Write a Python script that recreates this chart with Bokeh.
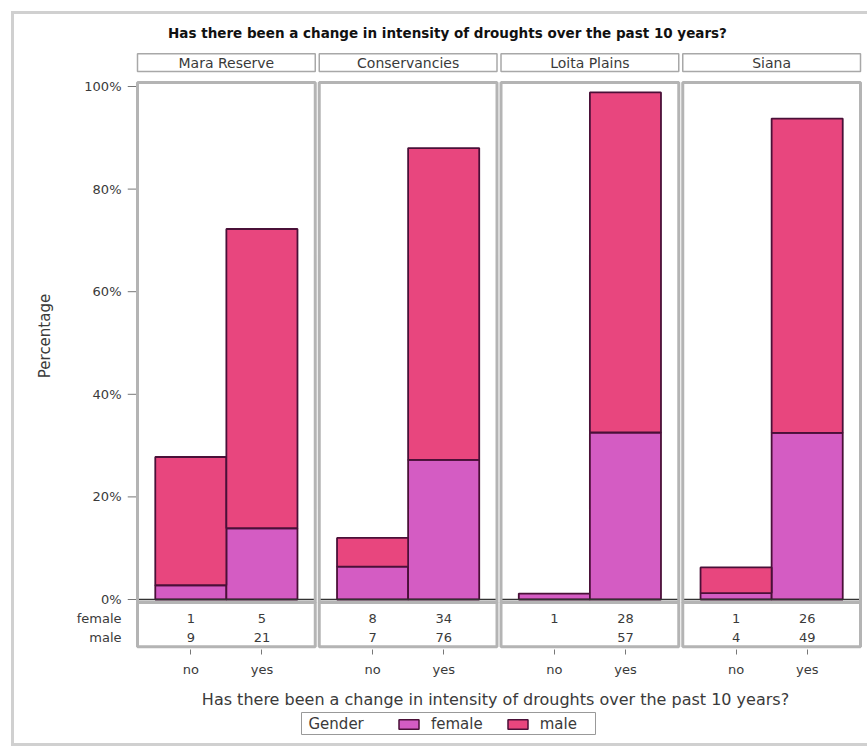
from bokeh.plotting import figure
from bokeh.layouts import column
from bokeh.models import (ColumnDataSource, Range1d, FixedTicker,
                          CustomJSTickFormatter, Legend, LegendItem)
from bokeh.embed import file_html
from bokeh.resources import INLINE
from bokeh.core.properties import value

# ---------------- data ----------------
title_text = "Has there been a change in intensity of droughts over the past 10 years?"
x_title = "Has there been a change in intensity of droughts over the past 10 years?"
y_title = "Percentage"
sites = ["Mara Reserve", "Conservancies", "Loita Plains", "Siana"]
answers = ["no", "yes"]
female_no = [1, 8, 1, 1]
female_yes = [5, 34, 28, 26]
male_no = [9, 7, 0, 4]
male_yes = [21, 76, 57, 49]
y_ticks = [0, 20, 40, 60, 80, 100]
gender_labels = ["female", "male"]
legend_title = "Gender"

# ---------------- style / layout ----------------
FEMALE = "#d45cc3"
MALE = "#e8467e"
EDGE = "#4a1038"
BOX = "#b4b4b4"
TXT = "#3a3a3a"
FONT = "DejaVu Sans"

PANEL_W = 2.5
GAP = 0.0563
PITCH = PANEL_W + GAP
PX_X = 71.1      # px per x unit
PX_Y = 5.13      # px per percent
ORIGIN_X, ORIGIN_Y = 137, 599   # page px of x=0 and 0%
STRIP_TOP, STRIP_BOT = 106.4, 102.9
PANEL_TOP, PANEL_BOT = 100.8, -0.6
TABLE_BOT = -9.2
ROW_Y = [-3.7, -7.4]
TITLE_Y = (ORIGIN_Y - 32) / PX_Y

W = 867
FRAME_L, FRAME_R, FRAME_T, FRAME_B = 127, 863, 22, 649
MAIN_H = 707
LEG_H = 41
LEG_BOX = (301, 595, 708, 730)   # left, right, top, bottom (page px)
LEG_ITEMS_X = 396

# ---------------- derived values ----------------
bar_x, f_top, m_bot, m_top = [], [], [], []
f_lab, m_lab = [], []
for i in range(len(sites)):
    tot = female_no[i] + female_yes[i] + male_no[i] + male_yes[i]
    pairs = [(female_no[i], male_no[i]), (female_yes[i], male_yes[i])]
    for j, (f, m) in enumerate(pairs):
        x = i * PITCH + 0.75 + j
        fp = f / tot * 100
        mp = m / tot * 100
        bar_x.append(x)
        f_top.append(fp)
        m_bot.append(fp)
        m_top.append(fp + mp)
        f_lab.append(str(f) if f > 0 else "")
        m_lab.append(str(m) if m > 0 else "")

female_src = ColumnDataSource(dict(x=bar_x, top=f_top, bottom=[0] * len(bar_x)))
mk = [k for k in range(len(bar_x)) if m_top[k] > m_bot[k]]
male_src = ColumnDataSource(dict(x=[bar_x[k] for k in mk], top=[m_top[k] for k in mk],
                                 bottom=[m_bot[k] for k in mk]))

panel_left = [i * PITCH for i in range(len(sites))]
panel_right = [l + PANEL_W for l in panel_left]
panel_mid = [l + PANEL_W / 2 for l in panel_left]

x_min = (FRAME_L - ORIGIN_X) / PX_X
x_max = (FRAME_R - ORIGIN_X) / PX_X
y_max = (ORIGIN_Y - FRAME_T) / PX_Y
y_min = (ORIGIN_Y - FRAME_B) / PX_Y

p = figure(frame_width=FRAME_R - FRAME_L, frame_height=FRAME_B - FRAME_T,
           min_border_left=FRAME_L, min_border_right=W - FRAME_R,
           min_border_top=FRAME_T, min_border_bottom=MAIN_H - FRAME_B,
           x_range=Range1d(x_min, x_max), y_range=Range1d(y_min, y_max),
           output_backend="svg", toolbar_location=None)
p.outline_line_color = None
p.xgrid.visible = False
p.ygrid.visible = False
p.background_fill_color = "white"
p.border_fill_alpha = 0.0

# title (drawn inside the top of the frame)
p.text(x=[(447 - ORIGIN_X) / PX_X], y=[TITLE_Y], text=[title_text], text_align="center",
       text_baseline="middle", text_font=value(FONT), text_font_size="13.5px",
       text_font_style="bold", text_color="#111111")

# strip headers
p.quad(left=panel_left, right=panel_right, top=STRIP_TOP, bottom=STRIP_BOT,
       fill_color="white", line_color="#a8a8a8", line_width=1.5)
p.text(x=panel_mid, y=(STRIP_TOP + STRIP_BOT) / 2, text=sites, text_align="center",
       text_baseline="middle", text_font=value(FONT), text_font_size="14px", text_color=TXT)

# y tick marks
p.segment(x0=x_min, y0=y_ticks, x1=0, y1=y_ticks, line_color="#777777", line_width=1)

# bars
rf = p.vbar(x="x", top="top", bottom="bottom", width=1.0, source=female_src,
            fill_color=FEMALE, line_color=EDGE, line_width=1.8)
rm = p.vbar(x="x", top="top", bottom="bottom", width=1.0, source=male_src,
            fill_color=MALE, line_color=EDGE, line_width=1.8)

# baseline at 0
p.segment(x0=panel_left, y0=0, x1=panel_right, y1=0, line_color="#333333", line_width=1.5)

# panel boxes and table boxes
p.quad(left=panel_left, right=panel_right, top=PANEL_TOP, bottom=PANEL_BOT,
       fill_color=None, line_color=BOX, line_width=3)
p.quad(left=panel_left, right=panel_right, top=PANEL_BOT, bottom=TABLE_BOT,
       fill_color=None, line_color=BOX, line_width=3)

# counts table
p.text(x=bar_x, y=ROW_Y[0], text=f_lab, text_align="center", text_baseline="middle",
       text_font=value(FONT), text_font_size="13px", text_color=TXT)
p.text(x=bar_x, y=ROW_Y[1], text=m_lab, text_align="center", text_baseline="middle",
       text_font=value(FONT), text_font_size="13px", text_color=TXT)

# y axis: percentages plus the table row labels
p.yaxis.ticker = FixedTicker(ticks=sorted(ROW_Y) + y_ticks, minor_ticks=[])
p.yaxis.formatter = CustomJSTickFormatter(args=dict(row_y=ROW_Y, rows=gender_labels), code="""
if (tick < 0) {
  let best = 0;
  for (let k = 1; k < row_y.length; k++) {
    if (Math.abs(tick - row_y[k]) < Math.abs(tick - row_y[best])) best = k;
  }
  return rows[best];
}
return Math.round(tick) + '%';
""")
p.yaxis.axis_line_color = None
p.yaxis.major_tick_in = 0
p.yaxis.major_tick_out = 0
p.yaxis.minor_tick_line_color = None
p.yaxis.major_label_standoff = 6
p.yaxis.major_label_text_font = FONT
p.yaxis.major_label_text_font_size = "13px"
p.yaxis.major_label_text_color = TXT
p.yaxis.axis_label = y_title
p.yaxis.axis_label_text_font = FONT
p.yaxis.axis_label_text_font_size = "15px"
p.yaxis.axis_label_text_font_style = "normal"
p.yaxis.axis_label_text_color = TXT
p.yaxis.axis_label_standoff = 20

p.xaxis.ticker = FixedTicker(ticks=bar_x, minor_ticks=[])
p.xaxis.formatter = CustomJSTickFormatter(args=dict(labels=answers),
                                          code="return labels[index % labels.length];")
p.xaxis.axis_line_color = None
p.xaxis.major_tick_in = 0
p.xaxis.major_tick_out = 5
p.xaxis.major_tick_line_color = "#777777"
p.xaxis.minor_tick_line_color = None
p.xaxis.major_label_standoff = 7
p.xaxis.major_label_text_font = FONT
p.xaxis.major_label_text_font_size = "13px"
p.xaxis.major_label_text_color = TXT
p.xaxis.axis_label = x_title
p.xaxis.axis_label_text_font = FONT
p.xaxis.axis_label_text_font_size = "16px"
p.xaxis.axis_label_text_font_style = "normal"
p.xaxis.axis_label_text_color = TXT
p.xaxis.axis_label_standoff = 10

# ---------------- legend strip (second figure, data unit = page px, y up) ----------------
BOTTOM = MAIN_H + LEG_H
q = figure(frame_width=FRAME_R - FRAME_L, frame_height=LEG_H,
           min_border_left=FRAME_L, min_border_right=W - FRAME_R,
           min_border_top=0, min_border_bottom=0,
           x_range=Range1d(FRAME_L, FRAME_R), y_range=Range1d(0, LEG_H),
           x_axis_location=None, y_axis_location=None,
           output_backend="svg", toolbar_location=None)
q.outline_line_color = None
q.xgrid.visible = False
q.ygrid.visible = False
q.background_fill_alpha = 0.0
q.border_fill_alpha = 0.0

bl, br, bt, bb = LEG_BOX
q.quad(left=[bl], right=[br], top=[BOTTOM - bt], bottom=[BOTTOM - bb],
       fill_color="white", line_color="#999999", line_width=1)
q.text(x=[bl + 7], y=[BOTTOM - (bt + bb) / 2], text=[legend_title], text_align="left",
       text_baseline="middle", text_font=value(FONT), text_font_size="15px", text_color=TXT)

# legend swatch renderers: one bar each, placed left of the visible range
lf = q.vbar(x=[-1000], top=[1], bottom=[0], width=1, fill_color=FEMALE,
            line_color=EDGE, line_width=1.5)
lm = q.vbar(x=[-1000], top=[1], bottom=[0], width=1, fill_color=MALE,
            line_color=EDGE, line_width=1.5)
legend = Legend(items=[LegendItem(label=gender_labels[0], renderers=[lf]),
                       LegendItem(label=gender_labels[1], renderers=[lm])],
                location=(LEG_ITEMS_X - FRAME_L, BOTTOM - bb + 1), orientation="horizontal",
                label_text_font=FONT, label_text_font_size="15px", label_text_color=TXT,
                border_line_color=None, background_fill_alpha=0.0,
                padding=2, spacing=22, margin=0, label_standoff=10,
                glyph_width=25, glyph_height=12, label_height=14)
q.add_layout(legend)

line_css = "linear-gradient(#d0d0d0, #d0d0d0)"
page = column(p, q, spacing=0)
page.styles = {
    "background-color": "white",
    "background-image": ", ".join([line_css] * 3),
    "background-size": "3px 735px, 860px 3px, 860px 3px",
    "background-position": "11px 11px, 11px 11px, 11px 743px",
    "background-repeat": "no-repeat",
}

open("out.html", "w").write(file_html(page, INLINE))
